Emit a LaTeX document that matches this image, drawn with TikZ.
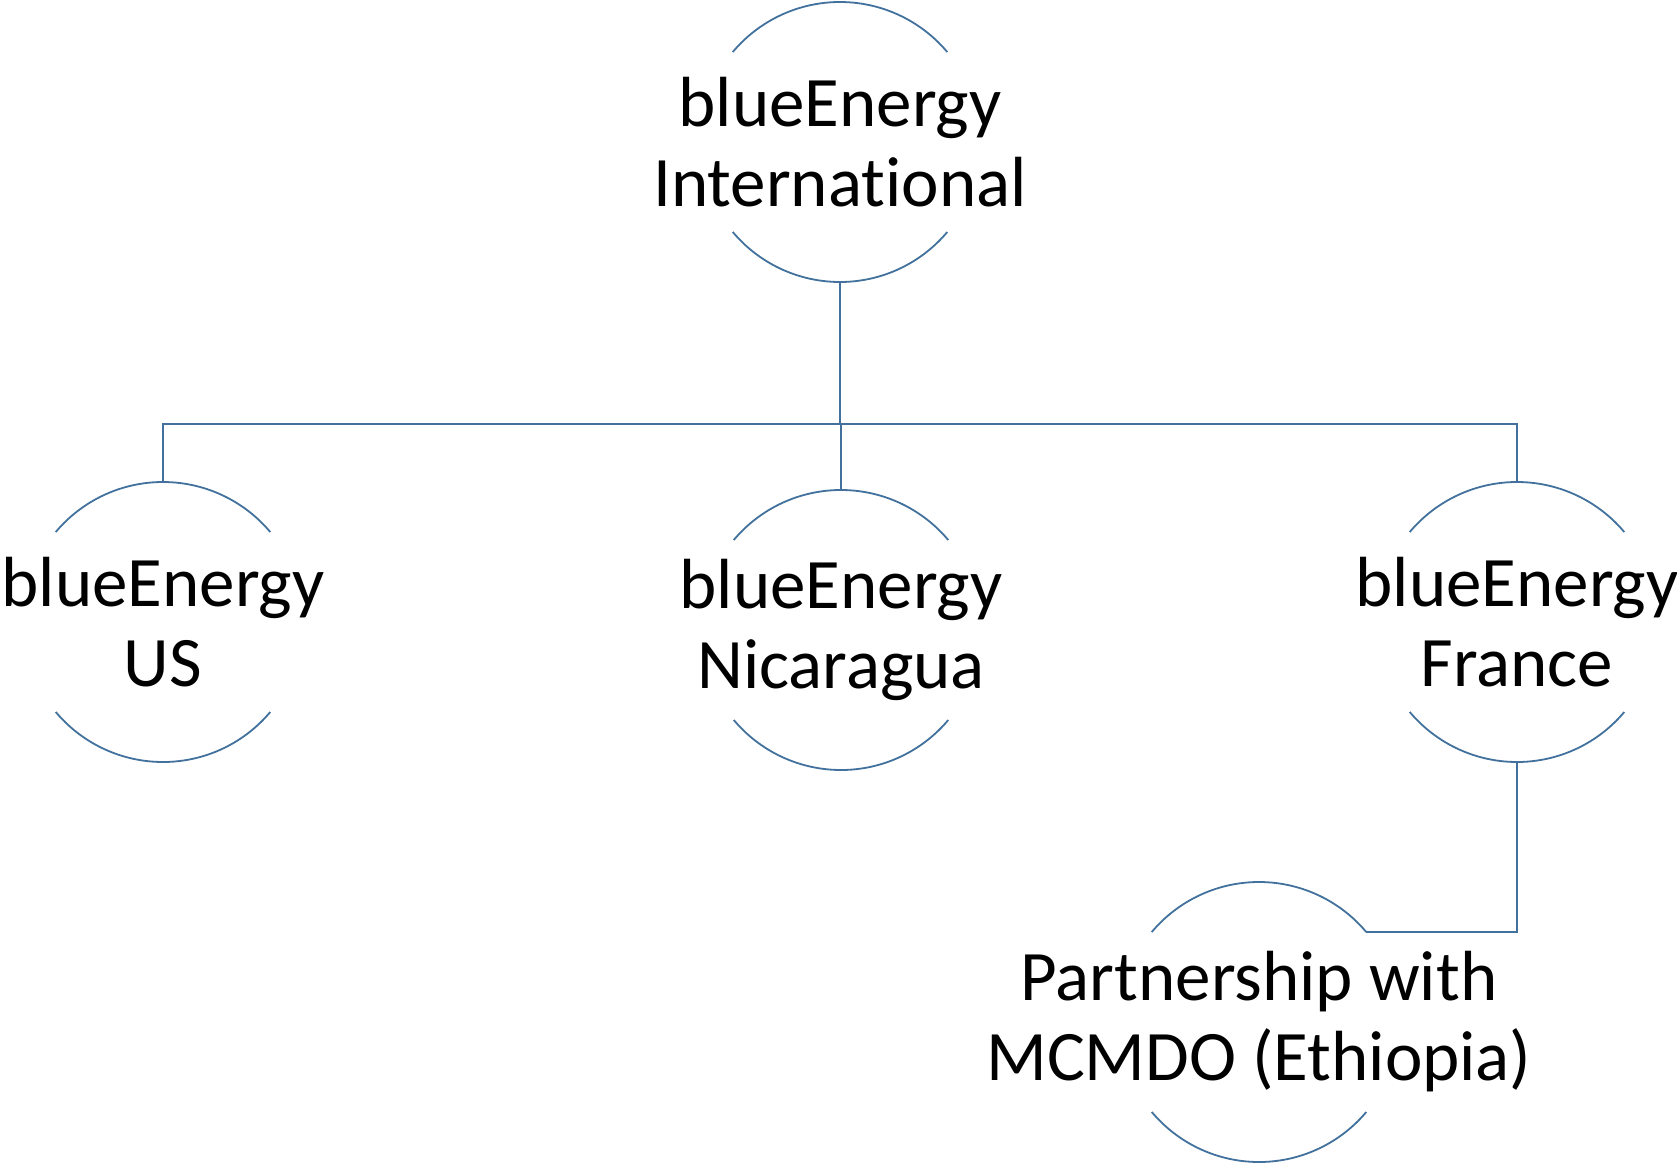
\documentclass[tikz,border=0pt]{standalone}
\usepackage{fontspec}
\setmainfont{Carlito}[Ligatures=NoCommon]
\usetikzlibrary{calc}
\definecolor{linkblue}{RGB}{65,113,156}

\begin{document}
\begin{tikzpicture}[x=1pt, y=1pt,
    caption/.style={align=center, inner sep=0pt, font=\fontsize{71}{80}\selectfont},
    unit/.style={circle, minimum size=280pt, inner sep=0pt, outer sep=0pt,
        label={[caption]center:#1}},
    wire/.style={draw=linkblue, line width=1.8pt}]
    \useasboundingbox (0, 0) rectangle (1677, -1167);
    \node[unit={blueEnergy\\International}] (intl) at (840, -142) {};
    \node[unit={blueEnergy\\US}] (us) at (163, -622) {};
    \node[unit={blueEnergy\\Nicaragua}] (nic) at (841, -630) {};
    \node[unit={blueEnergy\\France}] (fr) at (1517, -622) {};
    \node[unit={Partnership with\\MCMDO (Ethiopia)}] (part) at (1259, -1022) {};
    \coordinate (bus) at (840, -424);

    % half circles round each unit
    \foreach \n in {intl, us, nic, fr, part} {
        \draw[wire] (\n.40) arc[start angle=40, end angle=140, radius=140pt];
        \draw[wire] (\n.220) arc[start angle=220, end angle=320, radius=140pt];
    }

    \draw[wire]
    (intl.south) -- (bus)
    (us.north) -- (us.north |- bus) -- (fr.north |- bus) -- (fr.north)
    (nic.north) -- (nic.north |- bus)
    (fr.south) |- (part.40);

\end{tikzpicture}
\end{document}
